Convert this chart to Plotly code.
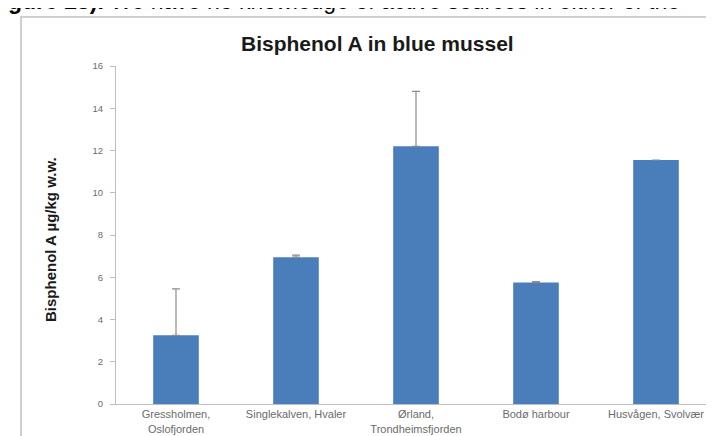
import plotly.graph_objects as go

categories = ["Gressholmen,<br>Oslofjorden", "Singlekalven, Hvaler", "Ørland,<br>Trondheimsfjorden",
              "Bodø harbour", "Husvågen, Svolvær"]
values = [3.25, 6.95, 12.2, 5.75, 11.55]
errors = [2.2, 0.1, 2.6, 0.05, 0]
y_ticks = [0, 2, 4, 6, 8, 10, 12, 14, 16]

W, H = 714, 436
L, R, T, B = 108, 6, 58, 40
pw, ph = W - L - R, H - T - B

def px2x(px):
    return (px - L) / pw

def py2y(py):
    return (H - B - py) / ph

fig = go.Figure()
fig.add_trace(go.Bar(
    x=categories, y=values,
    marker=dict(color="#4a7ebb", line=dict(width=0)),
    error_y=dict(type="data", array=errors, symmetric=False, arrayminus=[0]*5,
                 color="#8c8c8c", thickness=1.2, width=4),
    width=0.38,
))

fig.update_layout(
    width=W, height=H,
    margin=dict(l=L, r=R, t=T, b=B),
    paper_bgcolor="white", plot_bgcolor="white",
    showlegend=False,
    font=dict(family="Liberation Sans, Arial, sans-serif", color="#595959"),
    xaxis=dict(showline=True, linecolor="#bfbfbf", linewidth=1, ticks="", showgrid=False,
               tickfont=dict(size=11, color="#6b6b6b"), range=[-0.5, 4.5]),
    yaxis=dict(range=[0, 16], tickvals=y_ticks, showline=True, linecolor="#bfbfbf", linewidth=1,
               ticks="outside", ticklen=5, tickcolor="#bfbfbf", showgrid=False,
               ticklabelstandoff=5,
               tickfont=dict(size=9.5, color="#6b6b6b"), zeroline=False),
    shapes=[dict(type="rect", xref="paper", yref="paper",
                 x0=px2x(13), x1=px2x(W + 20), y0=py2y(H + 20), y1=py2y(9),
                 line=dict(color="#cfcfcf", width=2), fillcolor="rgba(0,0,0,0)", layer="below")],
    annotations=[
        dict(text="<b>Bisphenol A in blue mussel</b>", xref="paper", yref="paper",
             x=px2x(369), y=py2y(36), xanchor="center", yanchor="middle", showarrow=False,
             font=dict(size=21, color="#1a1a1a", family="Liberation Sans, Arial, sans-serif")),
        dict(text="<b>Bisphenol A µg/kg w.w.</b>", xref="paper", yref="paper",
             x=px2x(42), y=py2y(232), xanchor="center", yanchor="middle", showarrow=False,
             textangle=-90, font=dict(size=15, color="#1a1a1a")),
        dict(text="<b>gure 25).</b> We have no knowledge of active sources in either of the",
             xref="paper", yref="paper", x=px2x(-2), y=py2y(-7), xanchor="left", yanchor="middle",
             showarrow=False, font=dict(size=23, color="#000000", family="Liberation Sans, Arial, sans-serif")),
    ],
)

fig.write_html("out.html")
